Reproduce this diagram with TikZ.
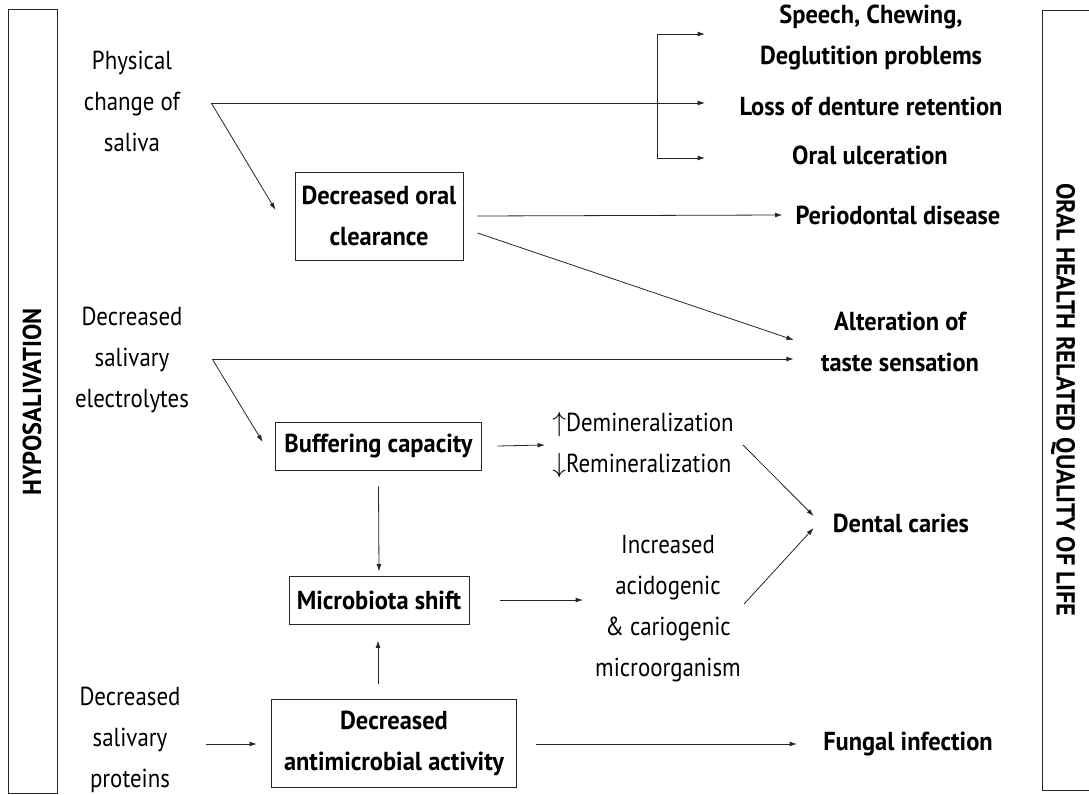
\documentclass[tikz,border=0pt]{standalone}
\usepackage{fontspec}
\setmainfont{PT Sans}[FakeStretch=0.88,BoldFeatures={FakeStretch=0.94}]
\usetikzlibrary{arrows.meta,calc}

\begin{document}
\begin{tikzpicture}[x=0.75pt,y=-0.75pt,
  font=\fontsize{19.5}{30.75}\selectfont,
  line/.style={draw=black!85,line width=0.6pt},
  arr/.style={line,-{Latex[length=5.5pt,width=3.6pt]}},
  txt/.style={align=center,inner sep=0pt},
  res/.style={txt,font=\fontsize{19.5}{30.75}\selectfont\bfseries},
  box/.style={draw=black!85,line width=0.7pt,align=center,inner sep=0pt,
    font=\fontsize{19.5}{30.75}\selectfont\bfseries}]
  \useasboundingbox (0,0) rectangle (1089,795);

  % Side frames
  \draw[line] (8,9) rectangle (57,793);
  \node[rotate=90,font=\fontsize{19.5}{20}\selectfont\bfseries] (hypo) at (32,402) {HYPOSALIVATION};
  \draw[line] (1089,10) -- (1042,10) -- (1042,790) -- (1089,790);
  \node[rotate=-90,font=\fontsize{19.5}{20}\selectfont\bfseries] (ohrq) at (1063,400) {ORAL HEALTH RELATED QUALITY OF LIFE};

  % Causes
  \node[txt] (phys) at (132,101) {Physical\\change of\\saliva};
  \node[txt] (elec) at (132,360) {Decreased\\salivary\\electrolytes};
  \node[txt] (prot) at (130,740) {Decreased\\salivary\\proteins};

  % Mechanisms
  \node[box,minimum width=126pt,minimum height=66pt] (oral) at (379,216) {Decreased oral\\clearance};
  \node[box,minimum width=155pt,minimum height=36pt] (buff) at (378.5,446) {Buffering capacity};
  \node[box,minimum width=135pt,minimum height=36pt] (micro) at (379,600) {Microbiota shift};
  \node[box,minimum width=184pt,minimum height=66pt] (anti) at (394,743) {Decreased\\antimicrobial activity};
  \node[txt,align=left] (mineral) at (643,445) {$\uparrow$Demineralization\\$\downarrow$Remineralization};
  \node[txt] (incr) at (668,609) {Increased\\acidogenic\\\& cariogenic\\microorganism};

  % Outcomes
  \node[res] (speech) at (871,37) {Speech, Chewing,\\Deglutition problems};
  \node[res] (loss) at (871,106) {Loss of denture retention};
  \node[res] (ulcer) at (870,155) {Oral ulceration};
  \node[res] (perio) at (898,215) {Periodontal disease};
  \node[res] (taste) at (900,342) {Alteration of\\taste sensation};
  \node[res] (caries) at (901,523) {Dental caries};
  \node[res] (fungal) at (908,744) {Fungal infection};

  % Junctions
  \coordinate (physj) at ($(phys.east)+(31,2)$);
  \coordinate (elecj) at ($(elec.east)+(23,-1)$);
  \coordinate (brk) at (657,103);
  \coordinate (speechin) at (705,34);
  \coordinate (lossin) at (705,103);
  \coordinate (ulcerin) at (705,158);

  % Physical change
  \draw[arr] (physj) -- (lossin);
  \draw[arr] (brk) |- (speechin);
  \draw[arr] (brk) |- (ulcerin);
  \draw[arr] (physj) -- ($(oral.west)+(-19,-6)$);
  \draw[arr] ($(oral.east)+(14,0)$) -- ($(perio.west)+(-13,0)$);
  \draw[arr] ($(oral.east)+(14,17)$) -- ($(taste.west)+(-27,-2)$);

  % Electrolytes
  \draw[arr] (elecj) -- (elecj -| {$(taste.west)+(-27,0)$});
  \draw[arr] (elecj) -- ($(buff.west)+(-12,-4)$);
  \draw[arr] ($(buff.east)+(15,0)$) -- ($(mineral.west)+(-7,0)$);
  \draw[arr] ($(mineral.east)+(9,0)$) -- ($(caries.west)+(-19,-7)$);
  \draw[arr] ($(buff.south)+(0,16)$) -- ($(micro.north)+(0,-4)$);
  \draw[arr] ($(micro.east)+(31,0)$) -- ($(incr.west)+(-12,-9)$);
  \draw[arr] ($(incr.east)+(3,-5)$) -- ($(caries.west)+(-19,5)$);

  % Proteins
  \draw[arr] ($(prot.east)+(25,4)$) -- ($(anti.west)+(-14,1)$);
  \draw[arr] ($(anti.north)+(-16,-15)$) -- ($(micro.south)+(-1,16)$);
  \draw[arr] ($(anti.east)+(19,1)$) -- ($(fungal.west)+(-26,0)$);
\end{tikzpicture}
\end{document}
